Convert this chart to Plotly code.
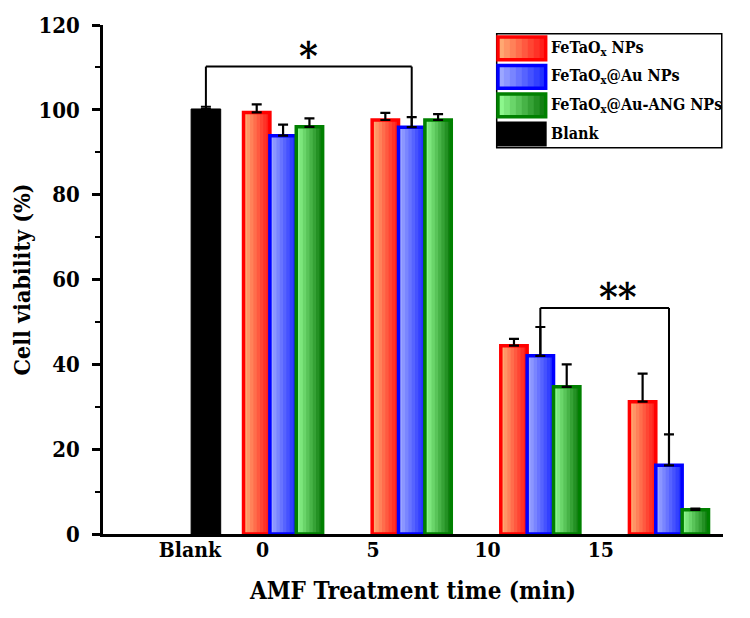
import plotly.graph_objects as go

# ---------------- data ----------------
groups = ["0", "5", "10", "15"]
series_names = ["FeTaO<sub>x</sub> NPs", "FeTaO<sub>x</sub>@Au NPs", "FeTaO<sub>x</sub>@Au-ANG NPs"]
fetaox = [99.4, 97.6, 44.4, 31.2]
fetaox_err = [1.9, 1.7, 1.6, 6.6]
fetaox_au = [93.9, 95.9, 42.0, 16.2]
fetaox_au_err = [2.6, 2.4, 6.8, 7.3]
fetaox_au_ang = [96.0, 97.6, 34.7, 5.7]
fetaox_au_ang_err = [2.0, 1.4, 5.3, 0.3]
blank_name = "Blank"
blank_value = [100.2]
blank_err = [0.5]
tick_labels = ["Blank", "0", "5", "10", "15"]
sig_labels = ["*", "**"]
sig_levels = [110.2, 53.3]

# ---------------- styling / layout ----------------
FONT = "DejaVu Serif Condensed, DejaVu Serif, serif"
group_pos = [1, 2, 3, 4]
blank_pos = [0.40]
tick_pos = [0.276, 0.84, 1.70, 2.59, 3.47]
series_offsets = [-0.205, 0.0, 0.205]
bar_w = 0.205
blank_w = 0.23
light_cols = [(255, 178, 120), (165, 175, 255), (150, 255, 150)]
dark_cols = [(255, 20, 20), (25, 40, 255), (10, 120, 10)]
border_cols = ["#FF0000", "#0000FF", "#008000"]
N_SLICES = 8

values = [fetaox, fetaox_au, fetaox_au_ang]
errors = [fetaox_err, fetaox_au_err, fetaox_au_ang_err]


def mix(c1, c2, t):
    return "rgb(%d,%d,%d)" % tuple(round(a + (b - a) * t) for a, b in zip(c1, c2))


fig = go.Figure()

# Blank bar
fig.add_trace(go.Bar(
    x=blank_pos, y=blank_value, width=blank_w, name=blank_name,
    marker=dict(color="black", line=dict(color="black", width=1)),
    error_y=dict(type="data", array=blank_err, arrayminus=[0] * len(blank_err),
                 symmetric=False, color="black", thickness=2, width=5),
    showlegend=False,
))

for i in range(3):
    xs = [g + series_offsets[i] for g in group_pos]
    # base (darkest) fill
    fig.add_trace(go.Bar(
        x=xs, y=values[i], width=bar_w,
        marker=dict(color=mix(light_cols[i], dark_cols[i], (N_SLICES - 0.5) / N_SLICES), line=dict(width=0)),
        showlegend=False, hoverinfo="skip",
    ))
    # gradient slices (left-aligned, lighter towards the left)
    for k in range(N_SLICES - 1, 0, -1):
        fig.add_trace(go.Bar(
            x=xs, y=values[i], width=bar_w * k / N_SLICES, offset=-bar_w / 2,
            marker=dict(color=mix(light_cols[i], dark_cols[i], (k - 0.5) / N_SLICES), line=dict(width=0)),
            showlegend=False, hoverinfo="skip",
        ))
    # outline + error bars
    fig.add_trace(go.Bar(
        x=xs, y=values[i], width=bar_w, name=series_names[i],
        marker=dict(color="rgba(0,0,0,0)", line=dict(color=border_cols[i], width=3.5)),
        error_y=dict(type="data", array=errors[i], arrayminus=[0] * len(errors[i]),
                     symmetric=False, color="black", thickness=2.2, width=5),
        showlegend=False,
    ))

# significance brackets
brackets = [
    (blank_pos[0], group_pos[1] + series_offsets[1], blank_value[0], fetaox_au[1], sig_levels[0], sig_labels[0], 1.2),
    (group_pos[2] + series_offsets[1], group_pos[3] + series_offsets[1], fetaox_au[2], fetaox_au[3], sig_levels[1], sig_labels[1], 3.6),
]
for xl, xr, yl, yr, ytop, lab, xs_ in brackets:
    fig.add_shape(type="line", x0=xl, x1=xl, y0=yl, y1=ytop, xref="x", yref="y", line=dict(color="black", width=2))
    fig.add_shape(type="line", x0=xl, x1=xr, y0=ytop, y1=ytop, xref="x", yref="y", line=dict(color="black", width=2))
    fig.add_shape(type="line", x0=xr, x1=xr, y0=yr, y1=ytop, xref="x", yref="y", line=dict(color="black", width=2))
    fig.add_annotation(x=xs_, y=ytop, xref="x", yref="y", text=lab, showarrow=False,
                       yanchor="bottom", yshift=-14,
                       font=dict(family=FONT, size=40, color="black", weight="bold"))

# manual legend
leg_x0, leg_x1, leg_y0, leg_y1 = 0.635, 0.998, 0.759, 0.983
fig.add_shape(type="rect", xref="paper", yref="paper", x0=leg_x0, x1=leg_x1, y0=leg_y0, y1=leg_y1,
              line=dict(color="black", width=1.5), fillcolor="white", layer="above")
row_y = [0.954, 0.898, 0.842, 0.786]
sw_x0, sw_x1, sw_h = 0.637, 0.714, 0.045
leg_names = series_names + [blank_name]
for r in range(4):
    yc = row_y[r]
    if r < 3:
        for k in range(N_SLICES, 0, -1):
            fig.add_shape(type="rect", xref="paper", yref="paper",
                          x0=sw_x0, x1=sw_x0 + (sw_x1 - sw_x0) * k / N_SLICES,
                          y0=yc - sw_h / 2, y1=yc + sw_h / 2, line=dict(width=0),
                          fillcolor=mix(light_cols[r], dark_cols[r], (k - 0.5) / N_SLICES), layer="above")
        fig.add_shape(type="rect", xref="paper", yref="paper", x0=sw_x0, x1=sw_x1,
                      y0=yc - sw_h / 2, y1=yc + sw_h / 2, line=dict(color=border_cols[r], width=3.5),
                      fillcolor="rgba(0,0,0,0)", layer="above")
    else:
        fig.add_shape(type="rect", xref="paper", yref="paper", x0=sw_x0, x1=sw_x1,
                      y0=yc - sw_h / 2, y1=yc + sw_h / 2, line=dict(color="black", width=2),
                      fillcolor="black", layer="above")
    fig.add_annotation(x=0.719, y=yc, xref="paper", yref="paper", text=leg_names[r],
                       showarrow=False, xanchor="left", yanchor="middle",
                       font=dict(family=FONT, size=16, color="black", weight="bold"))

fig.update_layout(
    width=750, height=618,
    margin=dict(l=103, r=27, t=15, b=84),
    plot_bgcolor="white", paper_bgcolor="white",
    barmode="overlay", showlegend=False,
    font=dict(family=FONT, color="black"),
)
fig.update_yaxes(
    range=[0, 120], tickvals=[0, 20, 40, 60, 80, 100, 120],
    ticks="outside", ticklen=8, tickwidth=2.5, tickcolor="black",
    minor=dict(ticks="outside", ticklen=5, tickwidth=2, dtick=10, tickcolor="black"),
    showline=True, linewidth=2.5, linecolor="black", showgrid=False, zeroline=False,
    tickfont=dict(family=FONT, size=22, color="black", weight="bold"),
    ticklabelstandoff=8,
    title=dict(text="Cell viability (%)", font=dict(family=FONT, size=23, color="black", weight="bold"), standoff=2),
)
fig.update_xaxes(
    range=[-0.40, 4.42], tickvals=tick_pos, ticktext=tick_labels,
    ticks="", showline=True, linewidth=2.5, linecolor="black", showgrid=False, zeroline=False,
    tickfont=dict(family=FONT, size=21, color="black", weight="bold"),
    ticklabelstandoff=-5,
    title=dict(text="AMF Treatment time (min)", font=dict(family=FONT, size=24, color="black", weight="bold"), standoff=22),
)

fig.write_html("out.html")
